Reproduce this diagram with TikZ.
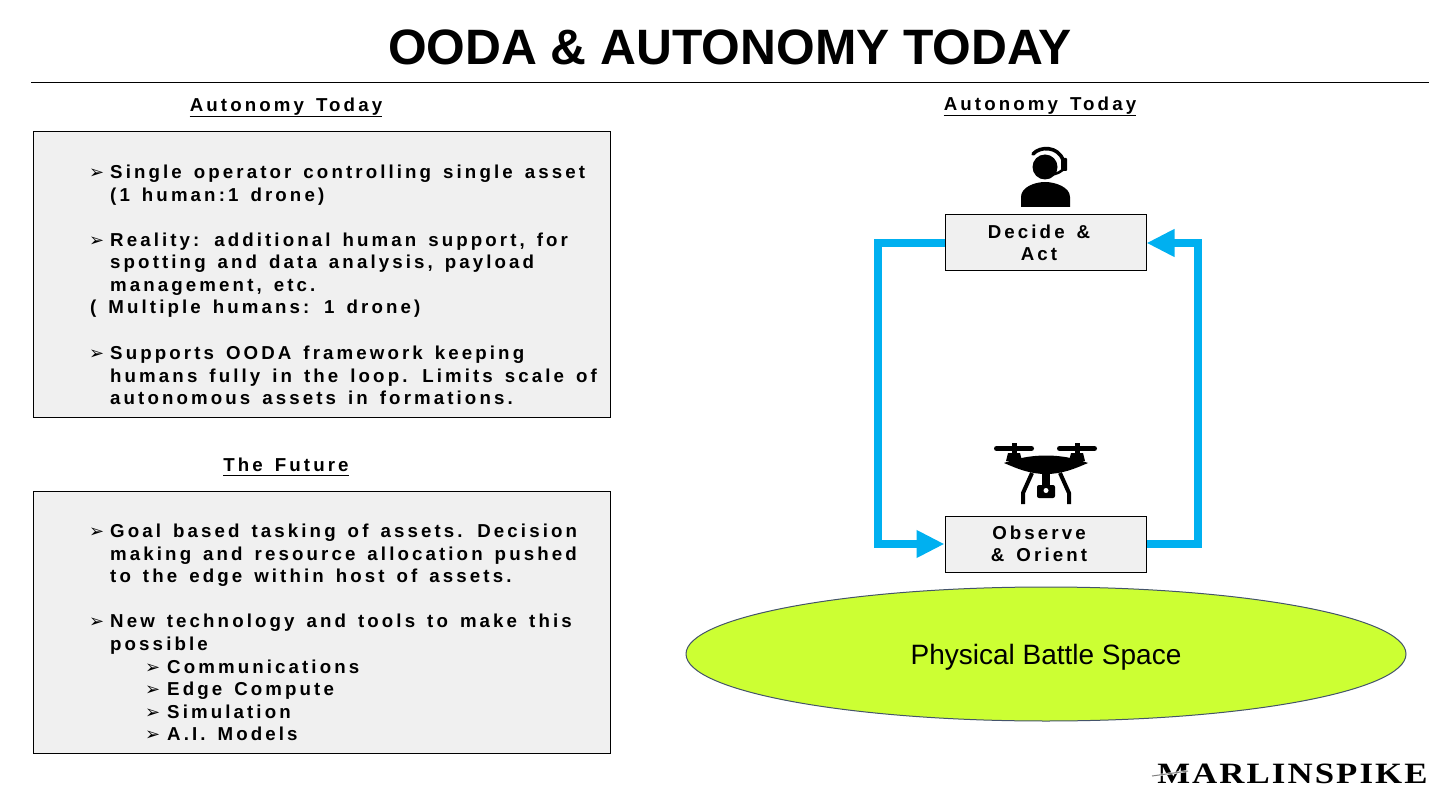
\documentclass[tikz,border=0pt]{standalone}
\usepackage{fontspec}
\setmainfont{Liberation Sans}
\newfontfamily\spaced[LetterSpace=16.6,WordSpace=1.45]{Liberation Sans}
\newfontfamily\arrowfont{DejaVu Sans}
\newfontfamily\logofont[LetterSpace=6]{Liberation Serif}
\usetikzlibrary{arrows.meta,shapes.geometric}
\definecolor{loopblue}{HTML}{00B0F0}
\definecolor{boxgray}{HTML}{F0F0F0}
\definecolor{battlegreen}{HTML}{CCFF33}
\definecolor{battleedge}{HTML}{44546A}
\tikzset{panel/.style={draw,fill=boxgray,line width=1pt,minimum width=#1,inner sep=0pt},
	 stepbox/.style={draw,fill=boxgray,line width=1pt,minimum width=201pt,minimum height=56pt,inner sep=0pt,align=center,font=\fontsize{18.7}{22.5}\selectfont\spaced\bfseries},
	 heading/.style={inner sep=0pt,anchor=base,font=\fontsize{18.7}{22.5}\selectfont\spaced\bfseries},
	 line/.style={inner sep=0pt,anchor=base west,font=\fontsize{18.7}{22.5}\selectfont\spaced\bfseries},
	 pointer/.style={inner sep=0pt,anchor=base west,font=\fontsize{18}{20}\selectfont\arrowfont},
	 rulebar/.style={line width=1.8pt},
	 loopline/.style={draw=loopblue,line width=8pt,-{Triangle[length=28pt,width=26pt]}}
	 }
\begin{document}
\begin{tikzpicture}[x=1pt,y=-1pt]
	\useasboundingbox (0,0) rectangle (1456,799);
	\node (title) [inner sep=0pt,font=\fontsize{49.7}{60}\selectfont\bfseries] at (730,47) {OODA \& AUTONOMY TODAY};
	\coordinate (ruleL) at (31,83); \coordinate (ruleR) at (1429,83);
	\draw [line width=1pt] (ruleL) -- (ruleR);
	% left column
	\node[heading] (head1) at (286,112) {Autonomy Today};
	\node[heading] (head2) at (286,471) {The Future};
	\node[heading] (head3) at (1040,111) {Autonomy Today};
	\foreach \h in {head1,head2,head3}
		\draw[rulebar] ([yshift=-4.5pt]\h.base west) -- ([yshift=-4.5pt]\h.base east);
	\node[panel=577pt,minimum height=285pt] (box1) at (321.5,274.5) {};
	\node[panel=577pt,minimum height=262pt] (box2) at (321.5,622) {};
	\foreach \x/\y/\txt [count=\i] in {
		110/179/{Single operator controlling single asset},
		110/201.5/{(1 human:1 drone)},
		110/246.5/{Reality: additional human support, for},
		110/269/{spotting and data analysis, payload},
		110/291.5/{management, etc.},
		90/314/{( Multiple humans: 1 drone)},
		110/359.5/{Supports OODA framework keeping},
		110/382/{humans fully in the loop. Limits scale of},
		110/404/{autonomous assets in formations.},
		110/537.5/{Goal based tasking of assets. Decision},
		110/560/{making and resource allocation pushed},
		110/582.5/{to the edge within host of assets.},
		110/627.5/{New technology and tools to make this},
		110/650.5/{possible},
		167/673/{Communications},
		167/695.5/{Edge Compute},
		167/718/{Simulation},
		167/740.5/{A.I. Models}}
		\node[line] (txt\i) at (\x,\y) {\txt};
	\foreach \x/\y [count=\i] in {89/179,89/246.5,89/359.5,89/537.5,89/627.5,145/673,145/695.5,145/718,145/740.5}
		\node[pointer] (ptr\i) at (\x,\y) {➢};
	% loop on the right
	\node[stepbox] (decide) at (1045.5,243) {Decide \&\hspace*{13pt}\\Act\hspace*{13pt}};
	\node[stepbox] (observe) at (1045.5,544) {Observe\hspace*{13pt}\\\& Orient\hspace*{13pt}};
	\coordinate (railL) at (878,400); \coordinate (railR) at (1198,400);
	\draw[loopline] (decide.west) -| (railL) |- (observe.west);
	\draw[loopline] (observe.east) -| (railR) |- (decide.east);
	\node (battle) [ellipse,draw=battleedge,fill=battlegreen,line width=1pt,minimum width=720pt,minimum height=134pt,inner sep=0pt] at (1046,654) {};
	\node (battletxt) [inner sep=0pt,font=\fontsize{28}{32}\selectfont] at (1046,657.5) {Physical Battle Space};
	% operator
	\fill (1045,167) circle (12.5);
	\fill (1021,207) -- (1021,197) .. controls (1021,187) and (1035,182) .. (1045,182) .. controls (1055,182) and (1070,187) .. (1070,197) -- (1070,207) -- cycle;
	\draw [line width=3.6pt,line cap=round] (1033,154) .. controls (1040,146) and (1058,146) .. (1063,160);
	\draw [line width=2.6pt,line cap=round] (1064,167) .. controls (1063,172) and (1056,174) .. (1050,175);
	\fill [rounded corners=1pt] (1061,158) rectangle (1067,171);
	% drone
	\fill (1004,463) .. controls (1020,457) and (1035,455.5) .. (1046,455.5) .. controls (1057,455.5) and (1072,457) .. (1088,463) .. controls (1074,469) and (1062,474) .. (1046,474) .. controls (1030,474) and (1018,469) .. (1004,463) -- cycle;
	\foreach \sx in {1014,1077} {
		\fill (\sx-2.5,443) rectangle (\sx+2.5,460);
		\fill (\sx-6,453) -- (\sx+6,453) -- (\sx+8,461) -- (\sx-8,461) -- cycle;
		\draw [line width=5pt,line cap=round] (\sx-17.5,448.5) -- (\sx+17.5,448.5);
	}
	\draw [line width=4pt] (1032,473) -- (1023,493) -- (1023,504);
	\draw [line width=4pt] (1060,473) -- (1069,493) -- (1069,504);
	\fill (1042,470) rectangle (1050,486);
	\fill [rounded corners=2pt] (1037,485) rectangle (1055,498);
	\fill [white] (1046,490.5) circle (2.5);
	% logo
	\node (logo) [inner sep=0pt,anchor=base west,xscale=1.18,font=\fontsize{29.5}{32}\selectfont\logofont\bfseries] at (1157,783) {MARLINSPIKE};
	\coordinate (slashL) at (1152,776); \coordinate (slashR) at (1188,771);
	\draw [white,line width=2pt] (slashL) -- (slashR);
	\draw [gray,line width=1pt] (slashL) -- (slashR);
\end{tikzpicture}
\end{document}
